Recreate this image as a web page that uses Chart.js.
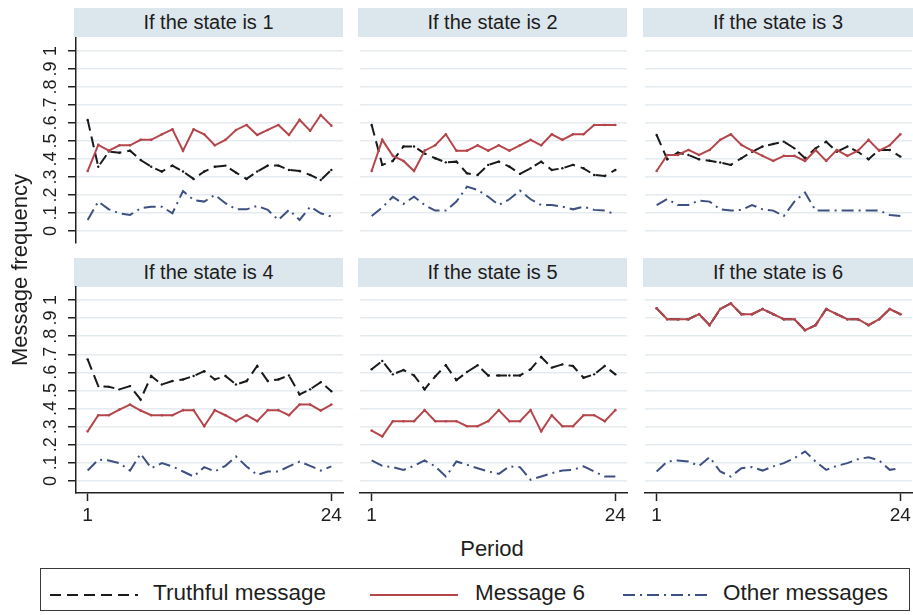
<!DOCTYPE html>
<html>
<head>
<meta charset="utf-8">
<script src="https://cdn.jsdelivr.net/npm/chart.js@4.4.1/dist/chart.umd.min.js"></script>
<style>
  html, body { margin: 0; padding: 0; background: #ffffff; }
  body { width: 913px; height: 615px; overflow: hidden; position: relative;
         font-family: "Liberation Sans", Arial, Helvetica, sans-serif; color: #1e1e1e; }
  .hdr { position: absolute; background: #dce6ed; text-align: center; font-size: 20px;
         line-height: 29px; height: 29px; color: #1c1c1c; white-space: nowrap; }
  canvas { position: absolute; }
  .gtitle { position: absolute; font-size: 22px; line-height: 22px; white-space: nowrap; color: #1e1e1e; }
  #legend { position: absolute; left: 40px; top: 568px; width: 870px; height: 43px;
            border: 1.5px solid #3a3a3a; box-sizing: border-box; }
  .ltext { position: absolute; font-size: 22.5px; line-height: 24px; top: 581px; white-space: nowrap; color: #1e1e1e; }
  svg.lsym { position: absolute; }
</style>
</head>
<body>
<div id="root"></div>
<script>
// ---------------- data ----------------
const periods = [1,2,3,4,5,6,7,8,9,10,11,12,13,14,15,16,17,18,19,20,21,22,23,24];
const panelTitles = ['If the state is 1','If the state is 2','If the state is 3',
                     'If the state is 4','If the state is 5','If the state is 6'];
const seriesNames = ['Truthful message','Message 6','Other messages'];
const yTickValues = [0,0.1,0.2,0.3,0.4,0.5,0.6,0.7,0.8,0.9,1];
const yTickLabels = ['0','.1','.2','.3','.4','.5','.6','.7','.8','.9','1'];
const xTickValues = [1,24];
const xTickLabels = ['1','24'];
const xAxisTitle = 'Period';
const yAxisTitle = 'Message frequency';

const truthfulS1 = [0.617,0.357,0.441,0.435,0.446,0.394,0.357,0.330,0.363,0.330,0.289,0.330,0.357,0.363,0.324,0.289,0.330,0.363,0.363,0.339,0.333,0.311,0.283,0.339];
const message6S1 = [0.333,0.478,0.446,0.476,0.476,0.506,0.506,0.537,0.565,0.446,0.565,0.537,0.476,0.506,0.561,0.589,0.533,0.561,0.589,0.533,0.617,0.557,0.644,0.585];
const otherS1    = [0.061,0.163,0.120,0.098,0.089,0.126,0.135,0.135,0.098,0.222,0.172,0.163,0.200,0.154,0.120,0.120,0.139,0.117,0.061,0.117,0.061,0.135,0.098,0.080];

const truthfulS2 = [0.589,0.367,0.389,0.469,0.469,0.430,0.404,0.381,0.385,0.320,0.311,0.367,0.385,0.357,0.317,0.348,0.385,0.339,0.348,0.367,0.348,0.311,0.305,0.339];
const message6S2 = [0.333,0.506,0.417,0.389,0.333,0.446,0.476,0.537,0.446,0.446,0.476,0.446,0.476,0.446,0.476,0.506,0.476,0.537,0.506,0.537,0.537,0.589,0.589,0.589];
const otherS2    = [0.083,0.131,0.190,0.150,0.190,0.144,0.113,0.113,0.163,0.246,0.228,0.190,0.144,0.176,0.224,0.176,0.144,0.144,0.135,0.120,0.135,0.117,0.113,0.093];

const truthfulS3 = [0.533,0.398,0.435,0.422,0.398,0.390,0.380,0.367,0.404,0.440,0.469,0.483,0.496,0.459,0.404,0.459,0.496,0.440,0.469,0.440,0.398,0.450,0.450,0.413];
const message6S3 = [0.333,0.422,0.422,0.450,0.422,0.450,0.506,0.537,0.478,0.446,0.417,0.389,0.417,0.417,0.389,0.450,0.389,0.450,0.417,0.446,0.506,0.446,0.476,0.537];
const otherS3    = [0.144,0.178,0.144,0.144,0.169,0.163,0.120,0.113,0.117,0.144,0.120,0.113,0.083,0.163,0.213,0.113,0.113,0.113,0.113,0.113,0.113,0.113,0.089,0.083];

const truthfulS4 = [0.672,0.524,0.520,0.506,0.524,0.450,0.580,0.533,0.552,0.561,0.580,0.607,0.561,0.580,0.533,0.552,0.635,0.552,0.561,0.583,0.478,0.506,0.546,0.496];
const message6S4 = [0.274,0.363,0.363,0.394,0.422,0.389,0.363,0.363,0.363,0.391,0.391,0.302,0.391,0.363,0.330,0.363,0.330,0.391,0.391,0.363,0.422,0.422,0.389,0.422];
const otherS4    = [0.057,0.117,0.113,0.098,0.057,0.150,0.070,0.098,0.080,0.052,0.024,0.076,0.052,0.083,0.135,0.080,0.033,0.052,0.052,0.080,0.107,0.083,0.057,0.080];

const truthfulS5 = [0.617,0.663,0.589,0.613,0.583,0.506,0.578,0.639,0.557,0.602,0.639,0.583,0.583,0.583,0.583,0.617,0.685,0.626,0.644,0.635,0.570,0.589,0.635,0.589];
const message6S5 = [0.278,0.246,0.330,0.330,0.330,0.391,0.330,0.330,0.330,0.302,0.302,0.330,0.391,0.330,0.330,0.391,0.274,0.363,0.302,0.302,0.363,0.363,0.330,0.391];
const otherS5    = [0.113,0.083,0.076,0.061,0.083,0.113,0.080,0.024,0.107,0.089,0.070,0.052,0.039,0.080,0.076,0.006,0.024,0.043,0.057,0.061,0.080,0.052,0.024,0.024];

const truthfulS6 = [0.954,0.894,0.894,0.894,0.922,0.861,0.950,0.981,0.922,0.922,0.950,0.922,0.894,0.894,0.833,0.861,0.950,0.922,0.894,0.894,0.861,0.894,0.950,0.922];
const message6S6 = [0.954,0.894,0.894,0.894,0.922,0.861,0.950,0.981,0.922,0.922,0.950,0.922,0.894,0.894,0.833,0.861,0.950,0.922,0.894,0.894,0.861,0.894,0.950,0.922];
const otherS6    = [0.052,0.107,0.113,0.107,0.083,0.131,0.052,0.024,0.070,0.076,0.057,0.080,0.098,0.126,0.163,0.107,0.061,0.083,0.098,0.120,0.131,0.113,0.061,0.070];

const truthfulAll = [truthfulS1,truthfulS2,truthfulS3,truthfulS4,truthfulS5,truthfulS6];
const message6All = [message6S1,message6S2,message6S3,message6S4,message6S5,message6S6];
const otherAll    = [otherS1,otherS2,otherS3,otherS4,otherS5,otherS6];

// ---------------- styles ----------------
const COL_BLACK = '#1a1a1a';
const COL_RED = '#b4464c';
const COL_BLUE = '#3e5081';
const COL_GRID = '#e4ecf0';
const COL_AXIS = '#222222';
const COL_HDR = '#dce6ed';
const DASH_TRUTH = [11, 6];
const DASH_OTHER = [12, 5, 2, 5];

// plot rectangles (page coords)
const colX = [[76, 343], [360, 627], [645, 912]];
const rowY = [[38, 243], [287, 493]];
const hdrX = [[74, 343], [358, 627], [643, 913]];
const hdrY = [8, 258];

const root = document.getElementById('root');

// y tick labels, rotated, drawn at the scale's tick pixels
const yLabelPlugin = {
  id: 'yRotLabels',
  afterDraw(chart, args, opts) {
    if (!opts || !opts.show) return;
    const s = chart.scales.y;
    const ctx = chart.ctx;
    ctx.save();
    ctx.font = '18px "Liberation Sans", Arial, sans-serif';
    ctx.fillStyle = '#1e1e1e';
    ctx.textAlign = 'center';
    ctx.textBaseline = 'alphabetic';
    s.ticks.forEach((t, i) => {
      const py = s.getPixelForValue(t.value);
      ctx.save();
      ctx.translate(opts.baselineX, py);
      ctx.rotate(-Math.PI / 2);
      ctx.fillText(yTickLabels[i], 0, 0);
      ctx.restore();
    });
    ctx.restore();
  }
};

function makePanel(i) {
  const row = Math.floor(i / 3), col = i % 3;
  const [pl, pr] = colX[col];
  const [pt, pb] = rowY[row];
  const leftAxis = col === 0;
  const bottomAxis = row === 1;

  // header strip (real text)
  const h = document.createElement('div');
  h.className = 'hdr';
  h.style.left = hdrX[col][0] + 'px';
  h.style.top = hdrY[row] + 'px';
  h.style.width = (hdrX[col][1] - hdrX[col][0]) + 'px';
  h.textContent = panelTitles[i];
  root.appendChild(h);

  const yAxisW = leftAxis ? pl : 0;
  const padL = leftAxis ? 0 : 2;
  const padR = 2, padT = 2;
  const xAxisH = bottomAxis ? 40 : 0;
  const padB = bottomAxis ? 0 : 2;
  const cLeft = leftAxis ? 0 : pl - 2;
  const cTop = pt - padT;
  const cW = (pr - cLeft) + padR;
  const cH = (pb - cTop) + (bottomAxis ? xAxisH : padB);

  const cv = document.createElement('canvas');
  cv.width = cW; cv.height = cH;
  cv.style.left = cLeft + 'px';
  cv.style.top = cTop + 'px';
  cv.style.width = cW + 'px';
  cv.style.height = cH + 'px';
  root.appendChild(cv);

  const mk = (arr) => periods.map((p, k) => ({ x: p, y: arr[k] }));

  new Chart(cv.getContext('2d'), {
    type: 'line',
    data: {
      datasets: [
        { label: seriesNames[0], data: mk(truthfulAll[i]), borderColor: COL_BLACK, backgroundColor: COL_BLACK,
          borderWidth: 2, borderDash: DASH_TRUTH, pointRadius: 1.2, pointBorderWidth: 0, tension: 0, order: 1 },
        { label: seriesNames[1], data: mk(message6All[i]), borderColor: COL_RED, backgroundColor: COL_RED,
          borderWidth: 2, pointRadius: 1.3, pointBorderWidth: 0, tension: 0, order: 0 },
        { label: seriesNames[2], data: mk(otherAll[i]), borderColor: COL_BLUE, backgroundColor: COL_BLUE,
          borderWidth: 2, borderDash: DASH_OTHER, pointRadius: 0, tension: 0, order: 2 }
      ]
    },
    options: {
      responsive: false,
      animation: false,
      devicePixelRatio: 1,
      layout: { autoPadding: false, padding: { left: padL, right: padR, top: padT, bottom: padB } },
      plugins: {
        legend: { display: false },
        tooltip: { enabled: false },
        title: { display: false },
        yRotLabels: { show: leftAxis, baselineX: 56 }
      },
      scales: {
        x: {
          type: 'linear',
          min: -0.1, max: 25.1,
          display: bottomAxis,
          afterBuildTicks: (s) => { s.ticks = xTickValues.map(v => ({ value: v })); },
          afterFit: (s) => { s.height = xAxisH; },
          grid: { drawOnChartArea: false, drawTicks: true, tickLength: 8, tickColor: COL_AXIS, tickWidth: 1.5 },
          border: { display: true, color: COL_AXIS, width: 1.5 },
          ticks: {
            autoSkip: false, maxRotation: 0, minRotation: 0, padding: 3,
            color: '#1e1e1e',
            font: { family: '"Liberation Sans", Arial, sans-serif', size: 19 },
            callback: (v, idx) => xTickLabels[idx]
          }
        },
        y: {
          type: 'linear',
          min: -0.067, max: 1.072,
          display: true,
          afterBuildTicks: (s) => { s.ticks = yTickValues.map(v => ({ value: v })); },
          afterFit: (s) => { s.width = yAxisW; },
          grid: { color: COL_GRID, lineWidth: 1.5, drawTicks: leftAxis, tickLength: 8,
                  tickColor: COL_AXIS, tickWidth: 1.5 },
          border: { display: leftAxis, color: COL_AXIS, width: 1.5 },
          ticks: { display: false }
        }
      }
    },
    plugins: [yLabelPlugin]
  });
}

for (let i = 0; i < 6; i++) makePanel(i);

// global axis titles
const yt = document.createElement('div');
yt.className = 'gtitle';
yt.textContent = yAxisTitle;
yt.style.left = '20px';
yt.style.top = '270px';
yt.style.transform = 'translate(-50%, -50%) rotate(-90deg)';
root.appendChild(yt);

const xt = document.createElement('div');
xt.className = 'gtitle';
xt.textContent = xAxisTitle;
xt.style.left = '492px';
xt.style.top = '549px';
xt.style.transform = 'translate(-50%, -50%)';
root.appendChild(xt);

// legend
const lg = document.createElement('div');
lg.id = 'legend';
root.appendChild(lg);

function legendItem(x1, x2, color, dash, textLeft, label) {
  const svgNS = 'http://www.w3.org/2000/svg';
  const svg = document.createElementNS(svgNS, 'svg');
  svg.setAttribute('class', 'lsym');
  svg.setAttribute('width', x2 - x1 + 2);
  svg.setAttribute('height', 6);
  svg.style.left = (x1 - 1) + 'px';
  svg.style.top = '592px';
  const ln = document.createElementNS(svgNS, 'line');
  ln.setAttribute('x1', 1); ln.setAttribute('x2', x2 - x1 + 1);
  ln.setAttribute('y1', 3); ln.setAttribute('y2', 3);
  ln.setAttribute('stroke', color);
  ln.setAttribute('stroke-width', 2);
  if (dash) ln.setAttribute('stroke-dasharray', dash.join(' '));
  svg.appendChild(ln);
  root.appendChild(svg);
  const t = document.createElement('div');
  t.className = 'ltext';
  t.style.left = textLeft + 'px';
  t.textContent = label;
  root.appendChild(t);
}
legendItem(50, 138, COL_BLACK, DASH_TRUTH, 153, seriesNames[0]);
legendItem(370, 458, COL_RED, null, 475, seriesNames[1]);
legendItem(623, 708, COL_BLUE, DASH_OTHER, 723, seriesNames[2]);
</script>
</body>
</html>
